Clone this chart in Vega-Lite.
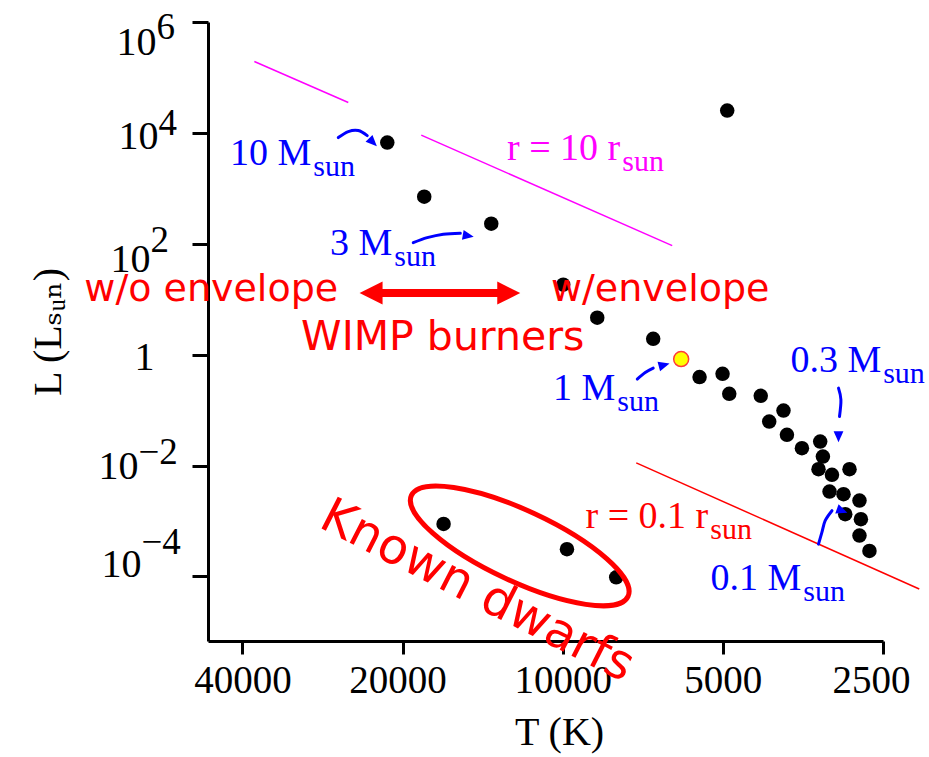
{
  "$schema": "https://vega.github.io/schema/vega-lite/v6.json",
  "width": 675,
  "height": 619,
  "autosize": {"type": "none"},
  "padding": {"left": 208, "top": 22, "right": 46, "bottom": 116},
  "background": "white",
  "config": {"view": {"stroke": null}, "font": "Liberation Serif"},
  "datasets": {
    "stars": [
      {"T": 21373, "L": 6683},
      {"T": 18214, "L": 708},
      {"T": 13627, "L": 230.6},
      {"T": 9978, "L": 18.27},
      {"T": 8613, "L": 4.636},
      {"T": 6760, "L": 1.936},
      {"T": 5531, "L": 0.3941},
      {"T": 5007, "L": 0.4519},
      {"T": 4864, "L": 0.1969},
      {"T": 4244, "L": 0.1812},
      {"T": 3846, "L": 0.09835},
      {"T": 4091, "L": 0.06226},
      {"T": 3789, "L": 0.03582},
      {"T": 3551, "L": 0.02062},
      {"T": 3281, "L": 0.02712},
      {"T": 3243, "L": 0.01454},
      {"T": 3305, "L": 0.008611},
      {"T": 3118, "L": 0.006795},
      {"T": 2890, "L": 0.008611},
      {"T": 3151, "L": 0.003394},
      {"T": 2966, "L": 0.003047},
      {"T": 2768, "L": 0.002335},
      {"T": 2944, "L": 0.001327},
      {"T": 2751, "L": 0.001078},
      {"T": 2768, "L": 0.0005452},
      {"T": 2651, "L": 0.0002886},
      {"T": 4907, "L": 25264},
      {"T": 16750, "L": 0.000886},
      {"T": 9819, "L": 0.0003097},
      {"T": 7934, "L": 0.0000967}
    ],
    "sun": [{"T": 5989, "L": 0.833}],
    "radii": [
      {"T": 38000, "L": 193640, "seg": "a", "seq": 1, "kind": "large"},
      {"T": 25302, "L": 35236, "seg": "a", "seq": 2, "kind": "large"},
      {"T": 18452, "L": 9127, "seg": "b", "seq": 1, "kind": "large"},
      {"T": 6226, "L": 92.4, "seg": "b", "seq": 2, "kind": "large"},
      {"T": 7275, "L": 0.01119, "seg": "c", "seq": 1, "kind": "small"},
      {"T": 2137, "L": 0.0000595, "seg": "c", "seq": 2, "kind": "small"}
    ],
    "pointers": [
      {"arrow": "10M", "seq": 1, "T": 26420, "L": 8228},
      {"arrow": "10M", "seq": 2, "T": 25302, "L": 10556},
      {"arrow": "10M", "seq": 3, "T": 24234, "L": 11004},
      {"arrow": "10M", "seq": 4, "T": 23309, "L": 8940},
      {"arrow": "3M", "seq": 1, "T": 19099, "L": 104.7},
      {"arrow": "3M", "seq": 2, "T": 17979, "L": 128.9},
      {"arrow": "3M", "seq": 3, "T": 16772, "L": 149},
      {"arrow": "3M", "seq": 4, "T": 15581, "L": 155.4},
      {"arrow": "1M", "seq": 1, "T": 7243, "L": 0.3627},
      {"arrow": "1M", "seq": 2, "T": 6997, "L": 0.4773},
      {"arrow": "1M", "seq": 3, "T": 6760, "L": 0.5731},
      {"arrow": "0.3M", "seq": 1, "T": 3031, "L": 0.2495},
      {"arrow": "0.3M", "seq": 2, "T": 2999.6, "L": 0.1535},
      {"arrow": "0.3M", "seq": 3, "T": 3018, "L": 0.07663},
      {"arrow": "0.1M", "seq": 1, "T": 3305, "L": 0.0003829},
      {"arrow": "0.1M", "seq": 2, "T": 3257, "L": 0.0006227},
      {"arrow": "0.1M", "seq": 3, "T": 3211, "L": 0.001013},
      {"arrow": "0.1M", "seq": 4, "T": 3118, "L": 0.001534}
    ],
    "pointerHeads": [
      {"arrow": "10M", "T": 22810, "L": 6966, "heading": 135},
      {"arrow": "3M", "T": 15116, "L": 140.0, "heading": 100},
      {"arrow": "1M", "T": 6473, "L": 0.6436, "heading": 75},
      {"arrow": "0.3M", "T": 3031, "L": 0.03437, "heading": 180},
      {"arrow": "0.1M", "T": 2995.7, "L": 0.001553, "heading": 110}
    ],
    "wimpShaft": [
      {"T": 22515, "L": 12.94, "seq": 1},
      {"T": 12826, "L": 12.94, "seq": 2}
    ],
    "wimpHeads": [
      {"T": 22929, "L": 12.94, "end": "left"},
      {"T": 12633, "L": 12.94, "end": "right"}
    ],
    "dwarfGroup": [{"T": 12047, "L": 0.0003553}],
    "annotations": [
      {"T": 29700, "L": 2679, "main": "10 M", "sub": "sun", "kind": "mass"},
      {"T": 20920, "L": 63.57, "main": "3 M", "sub": "sun", "kind": "mass"},
      {"T": 7967, "L": 0.1535, "main": "1 M", "sub": "sun", "kind": "mass"},
      {"T": 2519.6, "L": 0.4913, "main": "0.3 M", "sub": "sun", "kind": "mass"},
      {"T": 3562, "L": 0.0000570, "main": "0.1 M", "sub": "sun", "kind": "mass"},
      {"T": 7797, "L": 3296, "main": "r = 10 r", "sub": "sun", "kind": "large"},
      {"T": 5327, "L": 0.0007506, "main": "r = 0.1 r", "sub": "sun", "kind": "small"}
    ],
    "notes": [
      {"T": 45790, "L": 9.126, "note": "w/o envelope"},
      {"T": 6558, "L": 9.126, "note": "w/envelope"},
      {"T": 16809, "L": 1.2258, "note": "WIMP burners"},
      {"T": 14479, "L": 0.00005474, "note": "Known dwarfs"}
    ]
  },
  "encoding": {
    "x": {
      "field": "T",
      "type": "quantitative",
      "scale": {"type": "log", "domain": [2500, 46440], "reverse": true, "nice": false, "zero": false},
      "axis": {
        "values": [40000, 20000, 10000, 5000, 2500],
        "format": "d",
        "grid": false,
        "labelFont": "Liberation Serif",
        "labelFontSize": 39,
        "labelColor": "black",
        "labelFlush": false,
        "labelOverlap": false,
        "labelPadding": 7,
        "labelOffset": {"condition": [{"test": "datum.value == 2500", "value": -12}, {"test": "datum.value == 20000", "value": -5}], "value": 0},
        "tickSize": 13,
        "tickWidth": 3,
        "tickColor": "black",
        "domainColor": "black",
        "domainWidth": 3,
        "title": "T (K)",
        "titleFont": "Liberation Serif",
        "titleFontSize": 40,
        "titleFontWeight": "normal",
        "titleColor": "black",
        "titlePadding": 12,
        "titleX": 351
      }
    },
    "y": {
      "field": "L",
      "type": "quantitative",
      "scale": {"type": "log", "domain": [0.00000685, 1000000], "nice": false, "zero": false},
      "axis": null
    }
  },
  "layer": [
    {
      "data": {"name": "stars"},
      "mark": {"type": "point", "shape": "circle", "filled": true, "color": "black", "opacity": 1, "size": 210},
      "encoding": {
        "y": {
          "field": "L",
          "type": "quantitative",
          "scale": {"type": "log", "domain": [0.00000685, 1000000], "nice": false, "zero": false},
          "axis": {
            "orient": "left",
            "values": [0.0001, 0.01, 1, 100, 10000, 1000000],
            "labelExpr": "datum.value == 1 ? '1' : '10'",
            "grid": false,
            "labelFont": "Liberation Serif",
            "labelFontSize": 40,
            "labelColor": "black",
            "labelAlign": "right",
            "labelBaseline": "middle",
            "labelOverlap": false,
            "labelPadding": {"condition": [
              {"test": "datum.value == 1000000", "value": 36},
              {"test": "datum.value == 10000", "value": 34},
              {"test": "datum.value == 100", "value": 42},
              {"test": "datum.value == 0.01", "value": 54},
              {"test": "datum.value == 0.0001", "value": 51}
            ], "value": 38},
            "labelOffset": {"condition": [
              {"test": "datum.value == 1000000", "value": 20},
              {"test": "datum.value == 10000", "value": 4},
              {"test": "datum.value == 100", "value": 16},
              {"test": "datum.value == 0.01", "value": 1},
              {"test": "datum.value == 0.0001", "value": -12}
            ], "value": 3},
            "tickSize": 16,
            "tickWidth": 3,
            "tickColor": "black",
            "domainColor": "black",
            "domainWidth": 3,
            "title": "L (Lₛᵤₙ)",
            "titleFont": "Liberation Serif, DejaVu Serif",
            "titleFontSize": 40,
            "titleFontWeight": "normal",
            "titleColor": "black",
            "titlePadding": 30
          }
        }
      }
    },
    {
      "data": {"name": "radii"},
      "mark": {"type": "line", "strokeWidth": 1.5},
      "encoding": {
        "y": {
          "field": "L",
          "type": "quantitative",
          "scale": {"type": "log", "domain": [0.00000685, 1000000], "nice": false, "zero": false},
          "axis": {
            "orient": "left",
            "values": [0.0001, 0.01, 1, 100, 10000, 1000000],
            "labelExpr": "datum.value == 1 ? '' : (datum.value < 1 ? '−' : '') + abs(round(log(datum.value) / LN10))",
            "grid": false,
            "domain": false,
            "labelFont": "Liberation Serif",
            "labelFontSize": 37,
            "labelColor": "black",
            "labelAlign": "left",
            "labelBaseline": "middle",
            "labelOverlap": false,
            "labelPadding": {"condition": [
              {"test": "datum.value == 1000000", "value": 36},
              {"test": "datum.value == 10000", "value": 34},
              {"test": "datum.value == 100", "value": 42},
              {"test": "datum.value == 0.01", "value": 54},
              {"test": "datum.value == 0.0001", "value": 51}
            ], "value": 38},
            "labelOffset": {"condition": [
              {"test": "datum.value == 1000000", "value": 5},
              {"test": "datum.value == 10000", "value": -9},
              {"test": "datum.value == 100", "value": -3},
              {"test": "datum.value == 0.01", "value": -13},
              {"test": "datum.value == 0.0001", "value": -34}
            ], "value": 0},
            "tickSize": 16,
            "tickOpacity": 0,
            "title": null
          }
        },
        "detail": {"field": "seg"},
        "order": {"field": "seq"},
        "color": {"field": "kind", "type": "nominal", "scale": {"domain": ["mass", "large", "small"], "range": ["#0000ff", "#ff00ff", "#ff0000"]}, "legend": null}
      }
    },
    {
      "data": {"name": "sun"},
      "mark": {"type": "point", "shape": "circle", "filled": true, "fill": "#ffff00", "stroke": "#ff3a3a", "strokeWidth": 1.5, "opacity": 1, "size": 225}
    },
    {
      "data": {"name": "dwarfGroup"},
      "mark": {"type": "point", "shape": "M-1,0A1,0.297,0,1,0,1,0A1,0.297,0,1,0,-1,0Z", "filled": false, "stroke": "#ff0000", "strokeWidth": 5, "opacity": 1, "size": 57121, "angle": 25}
    },
    {
      "data": {"name": "pointers"},
      "mark": {"type": "line", "color": "#0000ff", "strokeWidth": 3, "interpolate": "cardinal", "strokeCap": "round"},
      "encoding": {
        "detail": {"field": "arrow"},
        "order": {"field": "seq"}
      }
    },
    {
      "data": {"name": "pointerHeads"},
      "mark": {"type": "point", "shape": "M0,-1L0.75,0.7L-0.75,0.7Z", "filled": true, "color": "#0000ff", "opacity": 1, "size": 170},
      "encoding": {
        "angle": {"field": "heading", "type": "quantitative", "scale": null}
      }
    },
    {
      "data": {"name": "wimpShaft"},
      "mark": {"type": "line", "color": "#ff0000", "strokeWidth": 8, "strokeCap": "butt"},
      "encoding": {"order": {"field": "seq"}}
    },
    {
      "data": {"name": "wimpHeads"},
      "mark": {"type": "point", "filled": true, "color": "#ff0000", "opacity": 1, "size": 529},
      "encoding": {
        "shape": {"field": "end", "type": "nominal", "scale": {"domain": ["left", "right"], "range": ["M-1,0L1,-1L1,1Z", "M1,0L-1,-1L-1,1Z"]}, "legend": null}
      }
    },
    {
      "data": {"name": "annotations"},
      "mark": {"type": "text", "align": "right", "baseline": "alphabetic", "font": "Liberation Serif", "fontSize": 38},
      "encoding": {
        "text": {"field": "main"},
        "color": {"field": "kind", "type": "nominal", "scale": {"domain": ["mass", "large", "small"], "range": ["#0000ff", "#ff00ff", "#ff0000"]}, "legend": null}
      }
    },
    {
      "data": {"name": "annotations"},
      "mark": {"type": "text", "align": "left", "baseline": "alphabetic", "font": "Liberation Serif", "fontSize": 30, "dx": 2, "dy": 11},
      "encoding": {
        "text": {"field": "sub"},
        "color": {"field": "kind", "type": "nominal", "scale": {"domain": ["mass", "large", "small"], "range": ["#0000ff", "#ff00ff", "#ff0000"]}, "legend": null}
      }
    },
    {
      "data": {"name": "notes"},
      "transform": [{"filter": "datum.note == 'w/o envelope' || datum.note == 'w/envelope'"}],
      "mark": {"type": "text", "align": "center", "baseline": "alphabetic", "font": "DejaVu Sans", "fontSize": 38, "color": "#ff0000"},
      "encoding": {"text": {"field": "note"}}
    },
    {
      "data": {"name": "notes"},
      "transform": [{"filter": "datum.note == 'WIMP burners'"}],
      "mark": {"type": "text", "align": "center", "baseline": "alphabetic", "font": "DejaVu Sans", "fontSize": 41, "color": "#ff0000"},
      "encoding": {"text": {"field": "note"}}
    },
    {
      "data": {"name": "notes"},
      "transform": [{"filter": "datum.note == 'Known dwarfs'"}],
      "mark": {"type": "text", "align": "center", "baseline": "middle", "font": "DejaVu Sans", "fontSize": 49, "color": "#ff0000", "angle": 27},
      "encoding": {"text": {"field": "note"}}
    }
  ],
  "resolve": {"axis": {"y": "independent"}}
}
